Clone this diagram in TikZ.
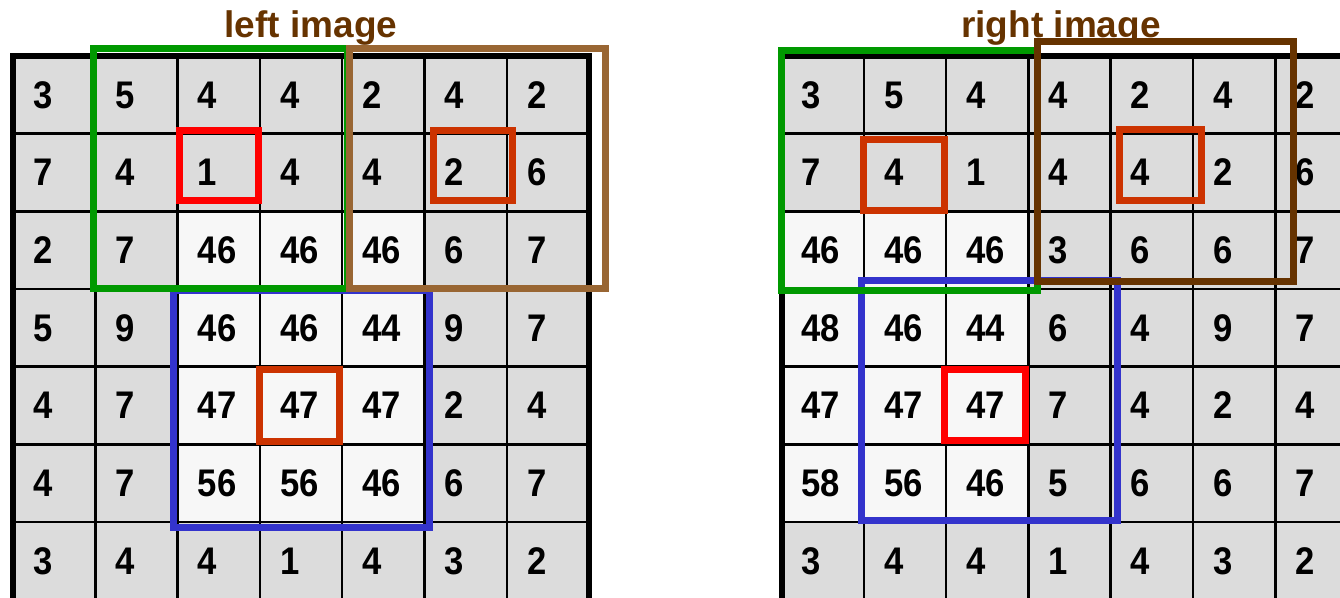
\documentclass[tikz,border=0pt]{standalone}
\usepackage{fontspec}
\setmainfont{Liberation Sans}
\newfontfamily\cellfont[FakeStretch=0.9]{Liberation Sans}
\definecolor{cgray}{HTML}{DCDCDC}
\definecolor{cwhite}{HTML}{F7F7F7}
\definecolor{cgreen}{HTML}{009900}
\definecolor{cbrownL}{HTML}{996633}
\definecolor{cbrownD}{HTML}{663300}
\definecolor{cblue}{HTML}{3333CC}
\definecolor{cred}{HTML}{FF0000}
\definecolor{corange}{HTML}{CC3300}
\begin{document}
\begin{tikzpicture}[x=1pt,y=-1pt,
  num/.style={anchor=base west, inner sep=0pt, font=\cellfont\fontsize{38.5}{40}\selectfont\bfseries},
  title/.style={anchor=base, inner sep=0pt, text=cbrownD, font=\fontsize{37}{40}\selectfont\bfseries},
  thin/.style={line width=2.5pt, black},
  thick/.style={line width=6pt, black},
  win/.style={line width=7pt},
]
\useasboundingbox (0,0) rectangle (1340,597);
\begin{scope}
\clip (0,0) rectangle (1340,597);
% ---------- left grid ----------
\fill[cgray] (13,56) rectangle (589.1,640);
\fill[cwhite] (177.6,211.3) rectangle (424.5,522);
\foreach \c in {1,...,6} \draw[thin] (13+\c*82.3,56) -- (13+\c*82.3,640);
\foreach \r in {1,...,7} \draw[thin] (13,56+\r*77.67) -- (589.1,56+\r*77.67);
\draw[thick] (13,640) -- (13,56) -- (589.1,56) -- (589.1,640);
\foreach \row [count=\r from 0] in {{3,5,4,4,2,4,2},{7,4,1,4,4,2,6},{2,7,46,46,46,6,7},{5,9,46,46,44,9,7},{4,7,47,47,47,2,4},{4,7,56,56,46,6,7},{3,4,4,1,4,3,2}}
  \foreach \v [count=\c from 0] in \row
    \node[num] (L-\r-\c) at (33+\c*82.3, 108+\r*77.67) {\v};
% ---------- right grid ----------
\fill[cgray] (781.5,56) rectangle (1400,640);
\fill[cwhite] (781.5,211.3) rectangle (1028.4,522);
\foreach \c in {1,...,6} \draw[thin] (781.5+\c*82.3,56) -- (781.5+\c*82.3,640);
\foreach \r in {1,...,7} \draw[thin] (781.5,56+\r*77.67) -- (1400,56+\r*77.67);
\draw[thick] (781.5,640) -- (781.5,56) -- (1400,56);
\foreach \row [count=\r from 0] in {{3,5,4,4,2,4,2},{7,4,1,4,4,2,6},{46,46,46,3,6,6,7},{48,46,44,6,4,9,7},{47,47,47,7,4,2,4},{58,56,46,5,6,6,7},{3,4,4,1,4,3,2}}
  \foreach \v [count=\c from 0] in \row
    \node[num] (R-\r-\c) at (801.5+\c*82.3, 108+\r*77.67) {\v};
% ---------- titles ----------
\node[title] (tl) at (311,37) {left image};
\node[title] (tr) at (1061,37) {right image};
% ---------- windows, left ----------
\draw[win, cblue] (173,290) rectangle (429,527);
\draw[win, cgreen] (93,48) rectangle (347,288);
\draw[win, cbrownL] (349,48) rectangle (605,288);
\draw[win, cred] (179,130) rectangle (258,200);
\draw[win, corange] (433,130) rectangle (512,200);
\draw[win, corange] (259,369) rectangle (339,441);
% ---------- windows, right ----------
\draw[win, cblue] (861,280) rectangle (1117,520);
\draw[win, cgreen] (781,50) rectangle (1037,290);
\draw[win, cbrownD] (1037,41) rectangle (1293,281);
\draw[win, corange] (863,139) rectangle (944,210);
\draw[win, corange] (1119,129) rectangle (1201,200);
\draw[win, cred] (944,369) rectangle (1025,440);
\end{scope}
\end{tikzpicture}
\end{document}
